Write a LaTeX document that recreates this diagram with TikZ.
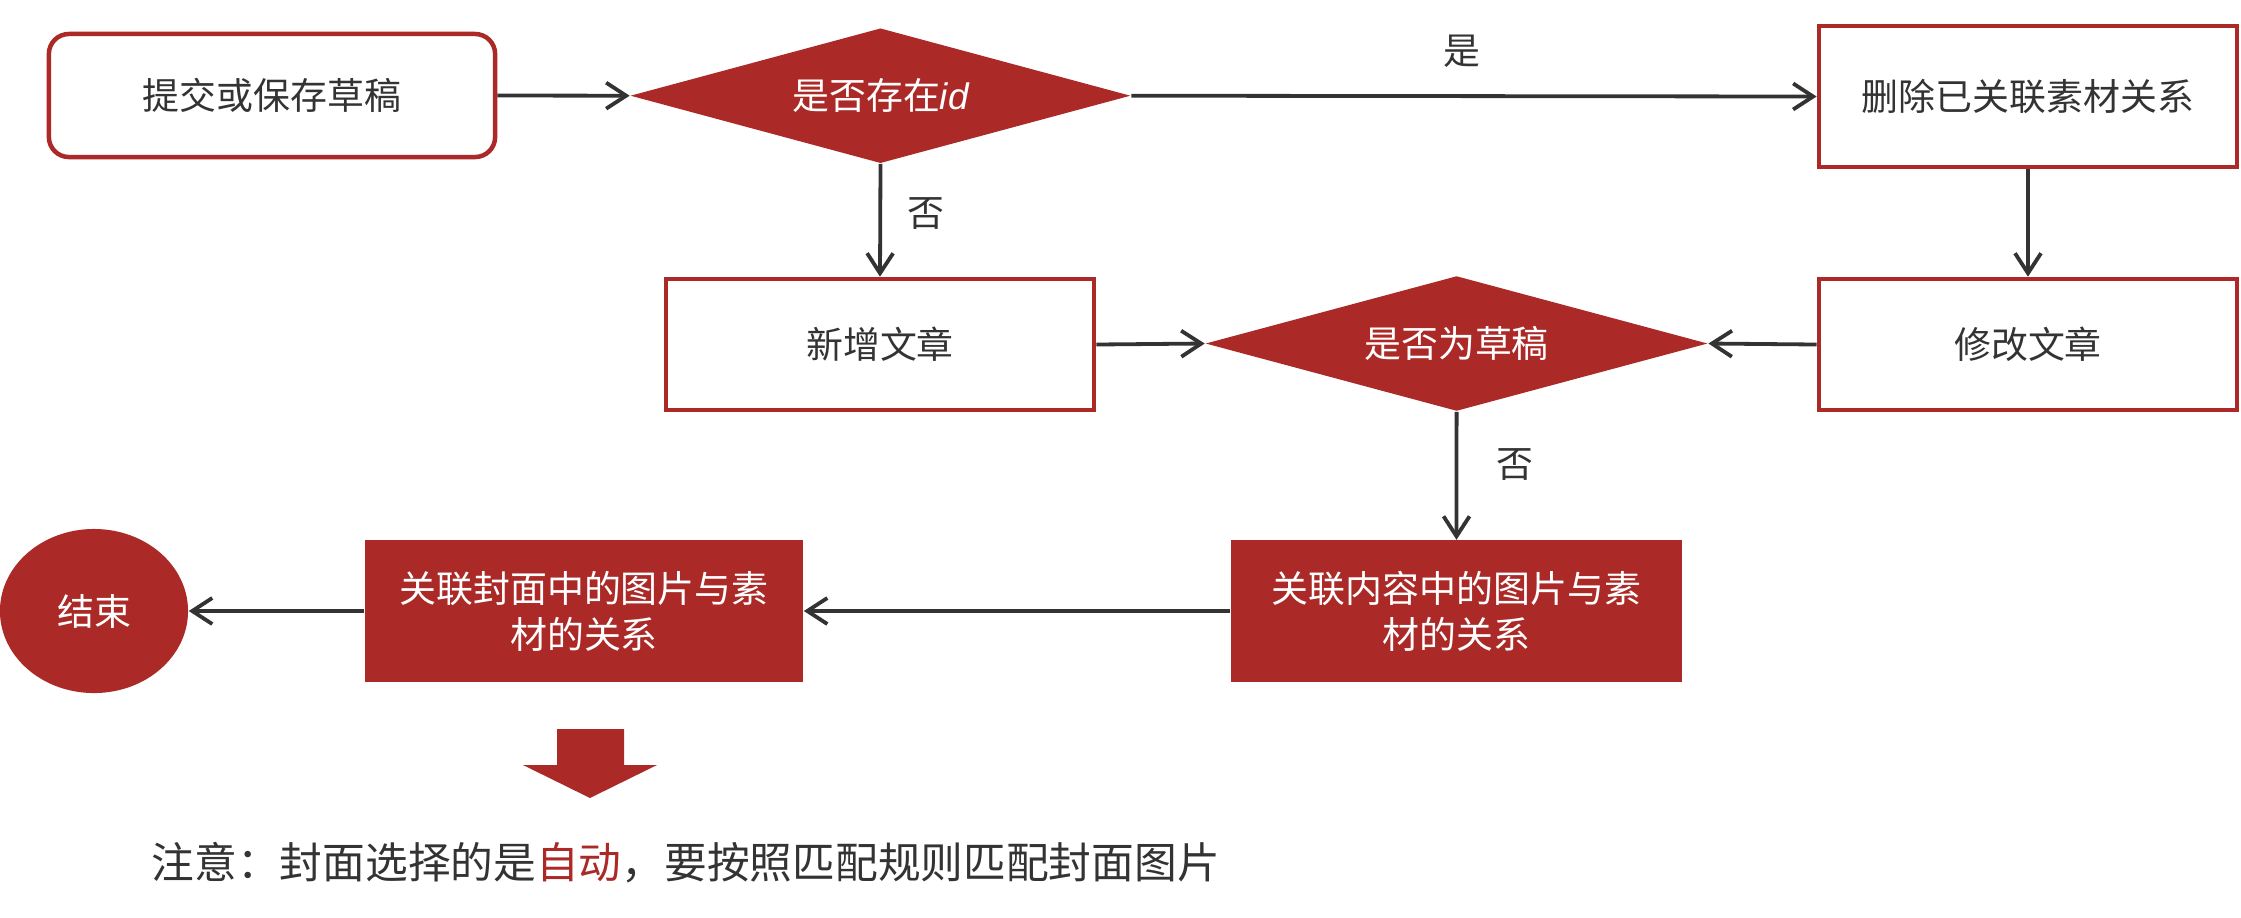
\documentclass[tikz,border=0pt]{standalone}
\usepackage{fontspec}
\setmainfont{Noto Sans CJK SC}
\newfontfamily\latinfont{Liberation Sans}
\usetikzlibrary{arrows.meta,shapes.geometric}
\definecolor{rd}{RGB}{171,42,39}
\definecolor{ln}{RGB}{51,51,51}
\definecolor{tx}{RGB}{51,51,51}
\tikzset{
  wbox/.style={draw=rd, line width=0.045cm, fill=white, text=tx, inner sep=0pt, rectangle},
  rbox/.style={fill=rd, text=white, inner sep=0pt, align=center, rectangle},
  dia/.style={diamond, fill=rd, text=white, inner sep=0pt, aspect=3.7},
  conn/.style={draw=ln, line width=0.038cm, -{Straight Barb[length=0.2cm,width=0.26cm]}},
  lbl/.style={text=tx, inner sep=0pt}
}
\begin{document}
\begin{tikzpicture}[x=0.01cm,y=-0.01cm,font=\fontsize{10.5}{13.1}\selectfont]
\useasboundingbox (0,0) rectangle (2241,917);
\node[wbox, rounded corners=0.2cm, minimum width=4.46cm, minimum height=1.23cm] (start) at (272,95.5) {提交或保存草稿};
\node[dia, minimum width=5.0cm, minimum height=1.35cm] (d1) at (880.5,95.7) {是否存在{\latinfont\itshape id}};
\node[wbox, minimum width=4.18cm, minimum height=1.41cm] (del) at (2028,96.5) {删除已关联素材关系};
\node[wbox, minimum width=4.18cm, minimum height=1.31cm] (mod) at (2028,344.5) {修改文章};
\node[wbox, minimum width=4.28cm, minimum height=1.31cm] (add) at (880,344.5) {新增文章};
\node[dia, minimum width=5.02cm, minimum height=1.35cm] (d2) at (1456.6,343.5) {是否为草稿};
\node[rbox, minimum width=4.51cm, minimum height=1.41cm] (c1) at (1456.5,611) {关联内容中的图片与素\\材的关系};
\node[rbox, minimum width=4.38cm, minimum height=1.41cm] (c2) at (584,611) {关联封面中的图片与素\\材的关系};
\node[ellipse, fill=rd, text=white, inner sep=0pt, minimum width=1.88cm, minimum height=1.64cm] (end) at (94,611) {结束};

\draw[conn] (start.east) -- (d1.west);
\draw[conn] (d1.east) -- (del.west);
\draw[conn] (d1.south) -- (add.north);
\draw[conn] (del.south) -- (mod.north);
\draw[conn] (add.east) -- (d2.west);
\draw[conn] (mod.west) -- (d2.east);
\draw[conn] (d2.south) -- (c1.north);
\draw[conn] (c1.west) -- (c2.east);
\draw[conn] (c2.west) -- (end.east);

\node[lbl] (yes) at (1462,51) {是};
\node[lbl] (no1) at (926,214) {否};
\node[lbl] (no2) at (1515,465) {否};

\fill[rd] (557,729) -- (624,729) -- (624,765) -- (657,765) -- (590,798) -- (523,765) -- (557,765) -- cycle;

\node[text=tx, anchor=west, inner sep=0pt, font=\fontsize{12.15}{15}\selectfont] (note) at (151,863) {注意：封面选择的是\textcolor{rd}{自动}，要按照匹配规则匹配封面图片};
\end{tikzpicture}
\end{document}
